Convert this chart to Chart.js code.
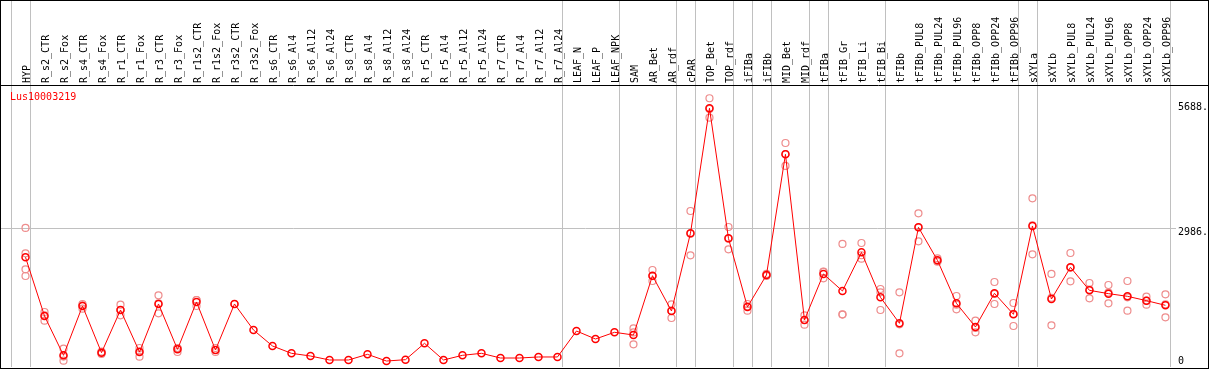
<!DOCTYPE html>
<html>
<head>
<meta charset="utf-8">
<script src="https://cdn.jsdelivr.net/npm/chart.js@4.4.1/dist/chart.umd.min.js"></script>
<style>
    body { margin: 0; background: #fff; }
    #wrap { position: relative; width: 1207px; height: 367px; border: 1px solid #000; }
    #gene { position: absolute; left: 9px; top: 90px; color: #f00; font: 10px "DejaVu Sans Mono", monospace; }
    #topline { position: absolute; left: 1169px; top: 84px; width: 38px; height: 1px; background: #000; }
</style>
</head>
<body>
<div id="wrap">
    <canvas id="myChart" width="1207" height="367"></canvas>
    <div id="topline"></div>
    <div id="gene">Lus10003219</div>
</div>
<script>
// Sample names
var categories = ['HYP', 'R_s2_CTR', 'R_s2_Fox', 'R_s4_CTR', 'R_s4_Fox', 'R_r1_CTR', 'R_r1_Fox', 'R_r3_CTR', 'R_r3_Fox',
    'R_r1s2_CTR', 'R_r1s2_Fox', 'R_r3s2_CTR', 'R_r3s2_Fox', 'R_s6_CTR', 'R_s6_Al4', 'R_s6_Al12', 'R_s6_Al24',
    'R_s8_CTR', 'R_s8_Al4', 'R_s8_Al12', 'R_s8_Al24', 'R_r5_CTR', 'R_r5_Al4', 'R_r5_Al12', 'R_r5_Al24',
    'R_r7_CTR', 'R_r7_Al4', 'R_r7_Al12', 'R_r7_Al24', 'LEAF_N', 'LEAF_P', 'LEAF_NPK', 'SAM', 'AR_Bet', 'AR_rdf',
    'cPAR', 'TOP_Bet', 'TOP_rdf', 'iFIBa', 'iFIBb', 'MID_Bet', 'MID_rdf', 'tFIBa', 'tFIB_Gr', 'tFIB_Li', 'tFIB_Bi',
    'tFIBb', 'tFIBb_PUL8', 'tFIBb_PUL24', 'tFIBb_PUL96', 'tFIBb_OPP8', 'tFIBb_OPP24', 'tFIBb_OPP96',
    'sXYLa', 'sXYLb', 'sXYLb_PUL8', 'sXYLb_PUL24', 'sXYLb_PUL96', 'sXYLb_OPP8', 'sXYLb_OPP24', 'sXYLb_OPP96'];

// Mean expression per sample
var means = [2366, 1100, 252, 1315, 309, 1229, 323, 1359, 381, 1402, 367, 1359, 798, 453, 295, 237, 151,
    151, 273, 129, 158, 511, 151, 252, 295, 194, 194, 216, 216, 776, 604, 748, 690, 1969, 1208,
    2883, 5579, 2775, 1294, 1984, 4586, 1014, 2006, 1639, 2473, 1503, 942, 3012, 2300, 1373, 863, 1589, 1136,
    3041, 1466, 2150, 1653, 1582, 1524, 1431, 1330];

// Replicate values per sample
var replicates = [
    [2998, 2452, 2107, 1962], [1186, 1115, 998], [395, 225, 136], [1359, 1330, 1257], [330, 316, 280],
    [1344, 1229, 1115], [410, 337, 222], [1546, 1373, 1158], [410, 410, 323], [1445, 1445, 1315],
    [410, 367, 323], [1359], [], [], [], [], [], [], [], [], [], [], [], [], [], [], [], [], [], [], [], [],
    [834, 745, 489], [2092, 1960, 1855], [1352, 1215, 1057], [3364, 2876, 2409], [5795, 5566, 5376],
    [3019, 2768, 2538], [1359, 1308, 1215], [2006, 1984, 1962], [4830, 4593, 4335], [1114, 1014, 913],
    [2056, 2050, 1912], [2653, 1136, 1130], [2674, 2410, 2336], [1682, 1611, 1229], [1611, 920, 295],
    [3314, 3011, 2711], [2343, 2286, 2271], [1531, 1344, 1244], [999, 842, 748], [1833, 1575, 1359],
    [1380, 1144, 884], [3638, 3055, 2430], [2006, 1493, 899], [2458, 2145, 1847], [1811, 1667, 1481],
    [1768, 1605, 1373], [1855, 1502, 1215], [1517, 1431, 1344], [1567, 1352, 1071]];

// Samples after which a group separator is drawn
var groupEnds = [-1, 0, 28, 31, 34, 35, 37, 38, 39, 41, 42, 45, 52, 53, 60];

// Y axis tick values
var yTicks = [0, 2986, 5688];

var monoFont = '"DejaVu Sans Mono", monospace';
var breaks = groupEnds.map(k => k + 0.24);

var meanPoints = means.map((v, i) => ({ x: i, y: v }));
var repPoints = [];
replicates.forEach((reps, i) => {
    reps.forEach(v => repPoints.push({ x: i, y: v }));
});

var ctx = document.getElementById('myChart').getContext('2d');
var myChart = new Chart(ctx, {
    type: 'line',
    data: {
        datasets: [{
            data: meanPoints,
            borderColor: '#ff0000',
            borderWidth: 1,
            pointRadius: 3.5,
            pointBorderWidth: 1.5,
            pointBorderColor: '#ff0000',
            pointBackgroundColor: 'rgba(0,0,0,0)',
            order: 0
        }, {
            data: repPoints,
            showLine: false,
            pointRadius: 3.5,
            pointBorderWidth: 1.2,
            pointBorderColor: '#ee8c8c',
            pointBackgroundColor: 'rgba(0,0,0,0)',
            order: 1
        }]
    },
    options: {
        responsive: false,
        animation: false,
        layout: { autoPadding: false, padding: { left: 0, right: 0, top: 0, bottom: 1 } },
        plugins: { legend: { display: false }, tooltip: { enabled: false } },
        scales: {
            x: {
                type: 'linear',
                position: 'top',
                min: -1.29,
                max: 60.24,
                afterBuildTicks: scale => {
                    var t = categories.map((c, i) => i).concat(breaks);
                    t.sort((a, b) => a - b);
                    scale.ticks = t.map(v => ({ value: v }));
                },
                afterFit: scale => {
                    scale.height = 84;
                    scale.paddingLeft = 0;
                    scale.paddingRight = 0;
                },
                ticks: {
                    autoSkip: false,
                    minRotation: 90,
                    maxRotation: 90,
                    padding: -83,
                    labelOffset: 14,
                    color: '#000',
                    font: { family: monoFont, size: 10 },
                    callback: value => Number.isInteger(value) ? categories[value] : ''
                },
                grid: {
                    drawTicks: true,
                    tickLength: 85,
                    color: c => breaks.indexOf(c.tick.value) >= 0 ? '#c0c0c0' : 'rgba(0,0,0,0)'
                },
                border: { display: true, color: '#000', width: 1 }
            },
            y: {
                position: 'right',
                min: 0,
                max: 6081,
                afterBuildTicks: scale => {
                    scale.ticks = yTicks.map(v => ({ value: v }));
                },
                afterFit: scale => {
                    scale.width = 38;
                    scale.paddingTop = 0;
                    scale.paddingBottom = 0;
                },
                ticks: {
                    padding: 2,
                    labelOffset: 4,
                    color: '#000',
                    font: { family: monoFont, size: 10, lineHeight: 1 },
                    callback: value => value === 0 ? ['0', '', ''] : value + '.'
                },
                grid: {
                    drawTicks: true,
                    tickLength: 6,
                    color: c => c.tick.value === 2986 ? '#c0c0c0' : 'rgba(0,0,0,0)'
                },
                border: { display: false }
            }
        }
    }
});
</script>
</body>
</html>
